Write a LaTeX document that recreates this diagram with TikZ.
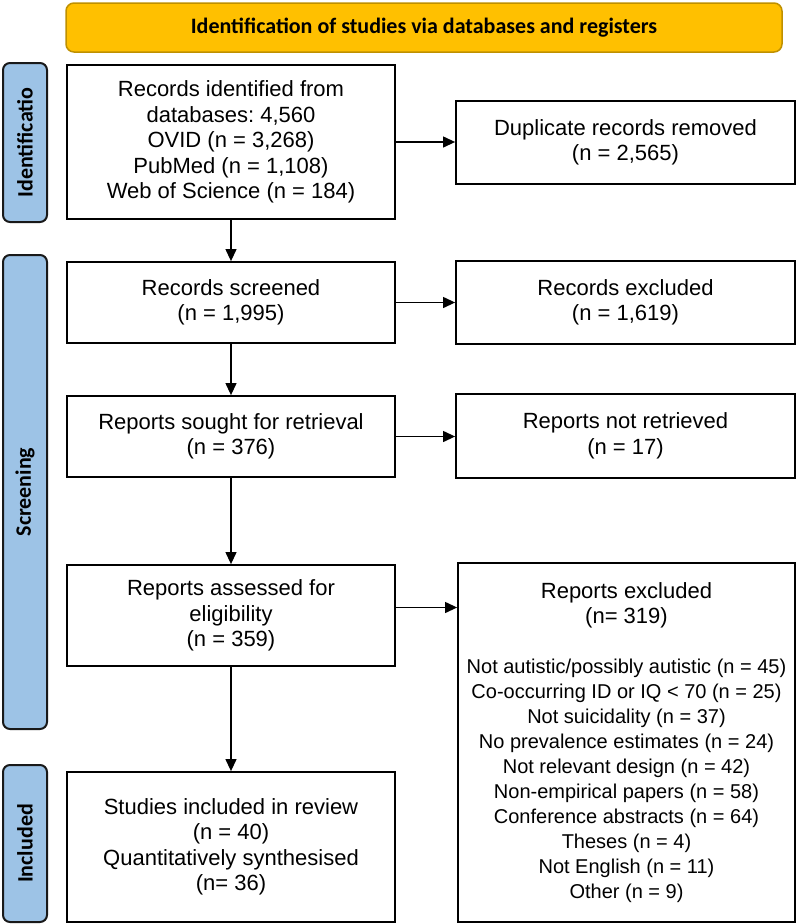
\documentclass[tikz,border=0pt]{standalone}
\usepackage{fontspec}
\setmainfont{Liberation Sans}
\newfontfamily\calfont{Carlito}
\usetikzlibrary{arrows.meta}
\definecolor{barfill}{HTML}{FFC000}
\definecolor{barline}{HTML}{BF9000}
\definecolor{sidefill}{HTML}{9DC3E6}
\newcommand\lsz{\fontsize{20}{25}\selectfont}
\frenchspacing
\begin{document}
\frenchspacing
\begin{tikzpicture}[x=1pt,y=-1pt,
  flowbox/.style={draw=black,line width=1.8pt,fill=white,inner sep=0pt,align=center,
    font=\frenchspacing\fontsize{22}{25.5}\selectfont},
  midbox/.style={flowbox,minimum width=328pt},
  rightbox/.style={flowbox,minimum width=339pt},
  sidebox/.style={draw=black!90,line width=2pt,fill=sidefill,rounded corners=7pt,rotate=90,
    inner sep=0pt,minimum height=44pt,font=\calfont\bfseries\fontsize{22}{26}\selectfont},
  titlebox/.style={draw=barline,line width=1.5pt,fill=barfill,rounded corners=8pt,
    inner sep=0pt,font=\calfont\bfseries\fontsize{22}{26}\selectfont},
  arr/.style={line width=1.2pt,-{Triangle[length=12pt,width=11pt]}}]
\useasboundingbox (0,0) rectangle (797,924);

% title bar
\node[titlebox,minimum width=716pt,minimum height=49pt] (title) at (424,27.5)
  {Identification of studies via databases and registers};

% side labels
\node[sidebox,minimum width=159pt] (sid) at (25,142.5) {Identificatio};
\node[sidebox,minimum width=474pt] (sscr) at (25,492) {Screening};
\node[sidebox,minimum width=157pt] (sinc) at (25,843.5) {Included};

% middle column
\node[midbox,minimum height=154pt] (rec) at (231,142)
  {Records identified from\\databases: 4,560\\OVID (n = 3,268)\\PubMed (n = 1,108)\\Web of Science (n = 184)};
\node[midbox,minimum height=81pt] (scr) at (231,302.5)
  {Records screened\\(n = 1,995)};
\node[midbox,minimum height=81pt] (sought) at (231,436.5)
  {Reports sought for retrieval\\(n = 376)};
\node[midbox,minimum height=101pt] (assess) at (231,615.5)
  {Reports assessed for\\eligibility\\(n = 359)};
\node[midbox,minimum height=150pt] (incl) at (231,847)
  {Studies included in review\\(n = 40)\\Quantitatively synthesised\\(n= 36)};

% right column
\node[rightbox,minimum height=83pt] (dup) at (625.5,142.5)
  {Duplicate records removed\\(n = 2,565)};
\node[rightbox,minimum height=83pt] (rexcl) at (625.5,302.5)
  {Records excluded\\(n = 1,619)};
\node[rightbox,minimum height=84pt] (notret) at (625.5,436)
  {Reports not retrieved\\(n = 17)};
\node[flowbox,minimum width=337pt,minimum height=359pt,
      font=\frenchspacing\fontsize{22}{25}\selectfont] (excl) at (626.5,742.5)
  {Reports excluded\\(n= 319)\\[25pt]
   \lsz Not autistic/possibly autistic (n = 45)\\
   \lsz Co-occurring ID or IQ < 70 (n = 25)\\
   \lsz Not suicidality (n = 37)\\
   \lsz No prevalence estimates (n = 24)\\
   \lsz Not relevant design (n = 42)\\
   \lsz Non-empirical papers (n = 58)\\
   \lsz Conference abstracts (n = 64)\\
   \lsz Theses (n = 4)\\
   \lsz Not English (n = 11)\\
   \lsz Other (n = 9)};

% connectors
\draw[arr] (rec.south) -- (scr.north);
\draw[arr] (scr.south) -- (sought.north);
\draw[arr] (sought.south) -- (assess.north);
\draw[arr] (assess.south) -- (incl.north);
\draw[arr] (rec.east) -- (rec.east -| dup.west);
\draw[arr] (scr.east) -- (scr.east -| rexcl.west);
\draw[arr] (sought.east) -- (sought.east -| notret.west);
\draw[arr] ([yshift=8pt]assess.east) -- ([yshift=8pt]assess.east -| excl.west);
\end{tikzpicture}
\end{document}
